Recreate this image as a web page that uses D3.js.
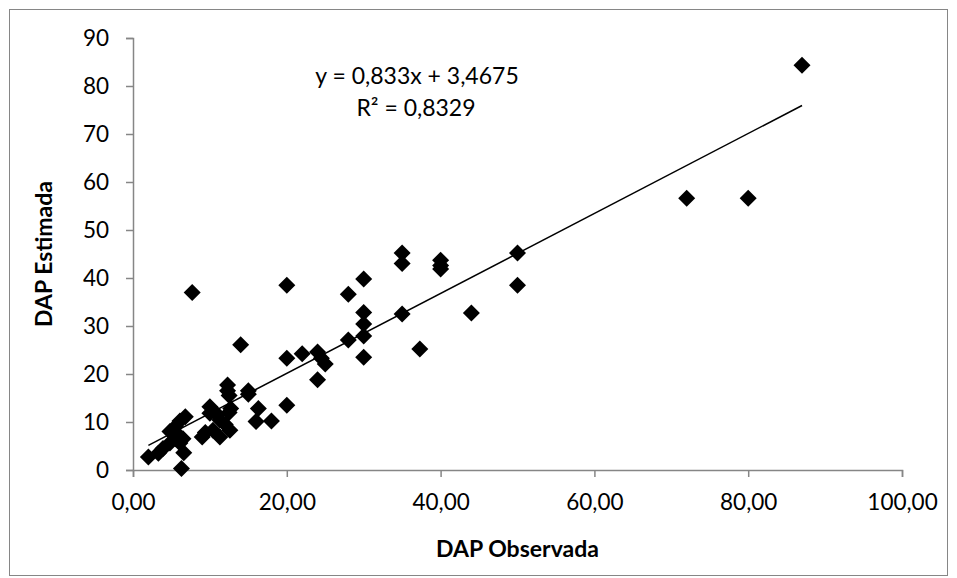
<!DOCTYPE html>
<html>
<head>
<meta charset="utf-8">
<script src="https://cdn.jsdelivr.net/npm/d3@7"></script>
<style>
  body { margin: 0; background: #fff; }
  svg { display: block; }
  text { font-family: Lato, "Open Sans", sans-serif; fill: #000; }
</style>
</head>
<body>
<div id="chart"></div>
<script>
// Observed vs estimated DAP
const dapObservada = [
    87, 72, 80, 50, 50, 44, 40, 40, 40, 35,
    35, 35, 37.3, 30, 30, 30, 30, 30, 28, 28,
    25, 24.5, 24, 24, 22, 20, 20, 20, 14, 7.7,
    15, 15, 12.3, 12.3, 12.5, 16.3, 16, 18, 12.7, 12.5,
    10, 10, 11, 11.3, 12, 12.6, 11.3, 9, 9.4, 10.4,
    6.8, 6.1, 4.8, 5.9, 5.5, 6.1, 4.8, 3.9, 3.3, 2,
    6.6, 6.3, 6.5, 5.5
];
const dapEstimada = [
    84.3, 56.6, 56.6, 45.2, 38.5, 32.7, 43.7, 42.6, 41.9, 45.2,
    43, 32.5, 25.2, 39.8, 32.8, 30.4, 27.9, 23.5, 36.6, 27.1,
    22.1, 23.3, 24.6, 18.8, 24.2, 38.5, 23.3, 13.5, 26.1, 37,
    16.5, 15.8, 17.7, 16.5, 15.5, 12.8, 10.1, 10.2, 12.8, 12,
    13.2, 11.8, 11.5, 10.4, 9.5, 8.3, 6.9, 6.9, 7.8, 8.3,
    11.1, 10.2, 8, 7.3, 6.5, 5.6, 5.6, 4.5, 3.5, 2.7,
    3.6, 0.3, 6.5, 9
];
const xTicks = [0, 20, 40, 60, 80, 100];
const yTicks = [0, 10, 20, 30, 40, 50, 60, 70, 80, 90];
// Excel linear trendline, as printed on the chart
const trendSlope = 0.833;
const trendIntercept = 3.4675;
const trendR2 = 0.8329;

function renderScatter() {
    const width = 957;
    const height = 578;
    const plot = { left: 133, right: 902, top: 38, bottom: 470 };
    const axisColor = '#868686';

    const svg = d3.select('#chart')
        .append('svg')
        .attr('width', width)
        .attr('height', height);

    // Chart area border
    svg.append('rect')
        .attr('x', 9.5)
        .attr('y', 9.5)
        .attr('width', 938)
        .attr('height', 566)
        .attr('fill', 'none')
        .attr('stroke', axisColor)
        .attr('stroke-width', 1);

    const x = d3.scaleLinear().domain([0, 100]).range([plot.left, plot.right]);
    const y = d3.scaleLinear().domain([0, 90]).range([plot.bottom, plot.top]);

    const fmtComma = v => d3.format('.2f')(v).replace('.', ',');

    // X axis
    const xAxis = svg.append('g')
        .attr('transform', `translate(0, ${plot.bottom})`)
        .call(d3.axisBottom(x).tickValues(xTicks).tickFormat(fmtComma).tickSizeOuter(0).tickSize(7).tickPadding(17));

    // Y axis
    const yAxis = svg.append('g')
        .attr('transform', `translate(${plot.left}, 0)`)
        .call(d3.axisLeft(y).tickValues(yTicks).tickSizeOuter(0).tickSize(7).tickPadding(17));

    [xAxis, yAxis].forEach(a => {
        a.select('.domain').attr('stroke', axisColor).attr('stroke-width', 1.5);
        a.selectAll('.tick line').attr('stroke', axisColor).attr('stroke-width', 1.5);
        a.selectAll('.tick text')
            .attr('font-family', 'Lato, sans-serif')
            .attr('font-size', '22.5px')
            .attr('fill', '#000');
    });

    // Trendline
    const xMin = d3.min(dapObservada);
    const xMax = d3.max(dapObservada);
    svg.append('line')
        .attr('x1', x(xMin))
        .attr('y1', y(trendSlope * xMin + trendIntercept))
        .attr('x2', x(xMax))
        .attr('y2', y(trendSlope * xMax + trendIntercept))
        .attr('stroke', '#000')
        .attr('stroke-width', 1.5);

    // Diamond markers
    const r = 8.5;
    const diamond = `M0,${-r}L${r},0L0,${r}L${-r},0Z`;
    svg.append('g')
        .selectAll('path')
        .data(dapObservada.map((v, i) => [v, dapEstimada[i]]))
        .join('path')
        .attr('d', diamond)
        .attr('transform', d => `translate(${x(d[0])},${y(d[1])})`)
        .attr('fill', '#000');

    // Equation label
    const fmt = v => String(v).replace('.', ',');
    svg.append('text')
        .attr('x', 417)
        .attr('y', 84)
        .attr('text-anchor', 'middle')
        .attr('font-size', '23px')
        .text(`y = ${fmt(trendSlope)}x + ${fmt(trendIntercept)}`);
    svg.append('text')
        .attr('x', 416)
        .attr('y', 116)
        .attr('text-anchor', 'middle')
        .attr('font-size', '23px')
        .text(`R² = ${fmt(trendR2)}`);

    // Axis titles
    svg.append('text')
        .attr('x', (plot.left + plot.right) / 2)
        .attr('y', 557)
        .attr('text-anchor', 'middle')
        .attr('font-size', '23px')
        .attr('font-weight', 'bold')
        .text('DAP Observada');

    svg.append('text')
        .attr('transform', `translate(52, ${(plot.top + plot.bottom) / 2}) rotate(-90)`)
        .attr('text-anchor', 'middle')
        .attr('font-size', '23px')
        .attr('font-weight', 'bold')
        .text('DAP Estimada');
}

renderScatter();
</script>
</body>
</html>
